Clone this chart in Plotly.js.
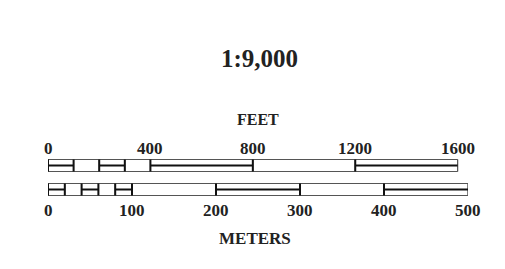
<!DOCTYPE html>
<html>
<head>
<meta charset="utf-8">
<script src="https://cdn.plot.ly/plotly-3.0.1.min.js"></script>
<style>html,body{margin:0;padding:0;background:#fff;}#chart{width:505px;height:269px;}</style>
</head>
<body>
<div id="chart"></div>
<script>
// ---- data ----
const scaleTitle = "1:9,000";
const feetLabel = "FEET";
const metersLabel = "METERS";
const feetSegments = [0, 100, 200, 300, 400, 800, 1200, 1600];
const feetTicks = [0, 400, 800, 1200, 1600];
const meterSegments = [0, 20, 40, 60, 80, 100, 200, 300, 400, 500];
const meterTicks = [0, 100, 200, 300, 400, 500];
const metersPerFoot = 0.3048;

// ---- layout constants (pixel-based y axis) ----
const FONT = "Liberation Serif, Times New Roman, serif";
const feetBar = {top: 159.5, bottom: 171.5, mid: 165.5};
const meterBar = {top: 183.5, bottom: 195.5, mid: 189.5};
const thin = {color: "#555", width: 1};
const thick = {color: "#111", width: 2};

function barTraces(edges, bar) {
  const traces = [];
  const x0 = edges[0], x1 = edges[edges.length - 1];
  traces.push({type: "scatter", mode: "lines", hoverinfo: "skip", showlegend: false,
    x: [x0, x1, x1, x0, x0], y: [bar.top, bar.top, bar.bottom, bar.bottom, bar.top], line: thin});
  const dx = [], dy = [];
  edges.forEach(e => { dx.push(e, e, null); dy.push(bar.top, bar.bottom, null); });
  traces.push({type: "scatter", mode: "lines", hoverinfo: "skip", showlegend: false, x: dx, y: dy, line: thin});
  const fx = [], fy = [];
  for (let i = 0; i < edges.length - 1; i += 2) {
    const a = edges[i], b = edges[i + 1];
    fx.push(a, b, null); fy.push(bar.mid, bar.mid, null);
    fx.push(a, a, null); fy.push(bar.top, bar.bottom, null);
    if (i + 1 < edges.length - 1) { fx.push(b, b, null); fy.push(bar.top, bar.bottom, null); }
  }
  traces.push({type: "scatter", mode: "lines", hoverinfo: "skip", showlegend: false, x: fx, y: fy, line: thick});
  return traces;
}

const feetInMeters = feetSegments.map(f => f * metersPerFoot);
const data = [].concat(barTraces(feetInMeters, feetBar), barTraces(meterSegments, meterBar));

const annotations = [];
const labelFont = {family: FONT, size: 17, color: "#222"};
feetTicks.forEach(f => annotations.push({x: f * metersPerFoot, y: 148, xref: "x", yref: "y",
  text: "<b>" + f + "</b>", showarrow: false, xanchor: "center", yanchor: "middle", font: labelFont}));
meterTicks.forEach(m => annotations.push({x: m, y: 210, xref: "x", yref: "y",
  text: "<b>" + m + "</b>", showarrow: false, xanchor: "center", yanchor: "middle", font: labelFont}));
annotations.push({x: 258, y: 119, xref: "paper", yref: "y", xanchor: "center", yanchor: "middle",
  text: "<b>" + feetLabel + "</b>", showarrow: false, font: {family: FONT, size: 16, color: "#222"}});
annotations.push({x: 255, y: 238, xref: "paper", yref: "y", xanchor: "center", yanchor: "middle",
  text: "<b>" + metersLabel + "</b>", showarrow: false, font: {family: FONT, size: 17, color: "#222"}});
annotations.push({x: 259, y: 58, xref: "paper", yref: "y", xanchor: "center", yanchor: "middle",
  text: "<b>" + scaleTitle + "</b>", showarrow: false, font: {family: FONT, size: 25, color: "#222"}});
annotations.forEach(a => { if (a.xref === "paper") a.x = (a.x - 48) / 420; });

const layout = {
  width: 505, height: 269,
  margin: {l: 48, r: 37, t: 0, b: 0, pad: 0},
  paper_bgcolor: "#fff", plot_bgcolor: "#fff",
  xaxis: {range: [0, 500], visible: false, fixedrange: true},
  yaxis: {range: [269, 0], visible: false, fixedrange: true},
  annotations: annotations,
  showlegend: false
};
Plotly.newPlot("chart", data, layout, {staticPlot: true, displayModeBar: false});
</script>
</body>
</html>
